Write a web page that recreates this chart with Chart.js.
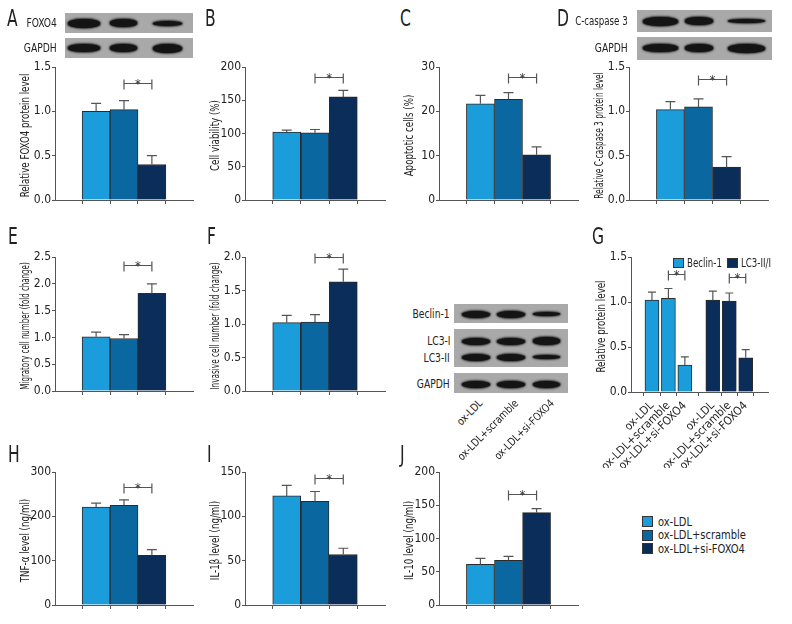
<!DOCTYPE html>
<html>
<head>
<meta charset="utf-8">
<script src="https://cdn.jsdelivr.net/npm/chart.js@4.4.0/dist/chart.umd.min.js"></script>
<style>
  body { margin: 0; background: #fff; }
  #fig { position: relative; width: 792px; height: 624px; overflow: hidden; background: #fff;
         font-family: 'DejaVu Sans Condensed', 'Liberation Sans Narrow', sans-serif; color: #222; }
  .blot { position: absolute; background: #a9a9a9; }
  .band { position: absolute; background: #141414; border-radius: 45%; box-shadow: 0 0 2px 1px #333; }
</style>
</head>
<body>
<div id="fig"></div>
<script>
// groups and colours
var groups = ["ox-LDL", "ox-LDL+scramble", "ox-LDL+si-FOXO4"];
var groupColors = ["#1b9ddb", "#0b67a0", "#0a2d5a"];

// panel values (mean) and SD
var foxo4Mean = [1.00, 1.02, 0.40];   var foxo4Sd = [0.09, 0.10, 0.10];
var viabMean  = [102, 101, 155];      var viabSd  = [3, 5, 10];
var apopMean  = [21.7, 22.7, 10.2];   var apopSd  = [1.9, 1.5, 1.8];
var ccasMean  = [1.02, 1.05, 0.37];   var ccasSd  = [0.09, 0.09, 0.12];
var migrMean  = [1.01, 0.98, 1.82];   var migrSd  = [0.09, 0.07, 0.18];
var invMean   = [1.02, 1.03, 1.63];   var invSd   = [0.11, 0.11, 0.19];
var beclinMean = [1.02, 1.04, 0.30];  var beclinSd = [0.09, 0.11, 0.09];
var lc3Mean    = [1.02, 1.01, 0.38];  var lc3Sd    = [0.10, 0.09, 0.09];
var tnfMean   = [221, 225, 112];      var tnfSd   = [9, 12, 13];
var il1bMean  = [123, 117, 57];       var il1bSd  = [12, 11, 7];
var il10Mean  = [61, 67, 139];        var il10Sd  = [9, 6, 6];
var gSeries = ["Beclin-1", "LC3-II/I"];

var W = 792;
var FONT = "'DejaVu Sans Condensed', 'Liberation Sans Narrow', sans-serif";
var fig = document.getElementById('fig');
Chart.defaults.font.family = FONT;
Chart.defaults.color = '#222';

// html text, squeezed a little to look like the condensed original
function txt(t, x, y, size, align, sx) {
  var d = document.createElement('div');
  d.textContent = t;
  d.style.cssText = 'position:absolute;white-space:nowrap;top:' + (y - size * 0.6) + 'px;font-size:' + size + 'px;line-height:' + (size * 1.2) + 'px;' +
    (align === 'right' ? 'right:' + (W - x) + 'px' : 'left:' + x + 'px') + ';transform-origin:' + (align === 'right' ? '100% 50%' : '0 50%') +
    ';transform:scaleX(' + (sx || 0.85) + ')';
  fig.appendChild(d);
  return d;
}

function rot(t, x, y, size) {
  var d = txt(t, x, y, size, 'right');
  d.style.transform = 'rotate(-45deg) scaleX(0.92)';
}

function box(x, y, w, h, color) {
  var d = document.createElement('div');
  d.style.cssText = 'position:absolute;left:' + x + 'px;top:' + y + 'px;width:' + w + 'px;height:' + h + 'px;background:' + color + ';border:1px solid #333;box-sizing:border-box';
  fig.appendChild(d);
}

// western blot strip: rows of bands [x0, x1, thickness]
function blot(x0, y0, x1, y1, rows) {
  var b = document.createElement('div');
  b.className = 'blot';
  b.style.cssText = 'left:' + x0 + 'px;top:' + y0 + 'px;width:' + (x1 - x0) + 'px;height:' + (y1 - y0) + 'px';
  fig.appendChild(b);
  rows.forEach(function (r) {
    r.lanes.forEach(function (l) {
      var d = document.createElement('div');
      d.className = 'band';
      d.style.cssText = 'left:' + (l[0] - x0) + 'px;top:' + (r.cy - y0 - l[2] / 2) + 'px;width:' + (l[1] - l[0]) + 'px;height:' + l[2] + 'px';
      b.appendChild(d);
    });
  });
}

function marks(o) {
  return {
    id: 'marks',
    afterDatasetsDraw: function (chart) {
      var ctx = chart.ctx, x = chart.scales.x, y = chart.scales.y;
      ctx.save();
      ctx.strokeStyle = '#555';
      ctx.lineWidth = 1.2;
      o.sets.forEach(function (s) {
        s.values.forEach(function (v, i) {
          var px = x.getPixelForValue(s.xs[i]);
          var y0 = y.getPixelForValue(v), y1 = y.getPixelForValue(v + s.sd[i]);
          ctx.beginPath();
          ctx.moveTo(px, y0); ctx.lineTo(px, y1);
          ctx.moveTo(px - o.cap, y1); ctx.lineTo(px + o.cap, y1);
          ctx.stroke();
        });
      });
      ctx.fillStyle = '#333';
      ctx.font = '13px ' + FONT;
      ctx.textAlign = 'center';
      (o.brackets || []).forEach(function (b) {
        var xa = x.getPixelForValue(b.from), xb = x.getPixelForValue(b.to), by = Math.round(y.getPixelForValue(b.y)) + 0.5;
        ctx.beginPath();
        ctx.moveTo(xa, by); ctx.lineTo(xb, by);
        ctx.moveTo(xa, by - 4); ctx.lineTo(xa, by + 6);
        ctx.moveTo(xb, by - 4); ctx.lineTo(xb, by + 6);
        ctx.stroke();
        ctx.fillText('*', (xa + xb) / 2, by + 4);
      });
      // y title, condensed to fit the axis like the original
      ctx.font = '11.5px ' + FONT;
      ctx.fillStyle = '#222';
      ctx.textBaseline = 'middle';
      var len = y.bottom - y.top, tw = ctx.measureText(o.ytitle).width;
      var k = Math.min(0.84, (len * 0.95) / tw);
      ctx.translate(y.right - 29, (y.top + y.bottom) / 2 + 2);
      ctx.rotate(-Math.PI / 2);
      ctx.scale(k, 1);
      ctx.fillText(o.ytitle, 0, 0);
      ctx.restore();
    }
  };
}

function panel(o) {
  var YW = 42, PT = 10, PR = 3, XH = o.xh || 10;
  var left = o.ax - YW, top = o.top - PT;
  var w = o.xe - left + PR, h = o.bottom - top + XH;
  var c = document.createElement('canvas');
  c.width = w; c.height = h;
  c.style.cssText = 'position:absolute;left:' + left + 'px;top:' + top + 'px';
  fig.appendChild(c);
  new Chart(c, {
    type: 'bar',
    data: {
      datasets: o.sets.map(function (s) {
        return {
          data: s.values.map(function (v, i) { return { x: s.xs[i], y: v }; }),
          backgroundColor: s.colors, borderColor: '#2b2b2b', borderWidth: 1,
          barThickness: o.bw, grouped: false
        };
      })
    },
    options: {
      responsive: false, animation: false,
      layout: { padding: { top: PT, right: PR, left: 0, bottom: 0 } },
      plugins: { legend: { display: false }, tooltip: { enabled: false } },
      scales: {
        x: {
          type: 'linear', min: o.xmin, max: o.xmax,
          afterFit: function (s) { s.height = XH; },
          afterBuildTicks: function (s) { s.ticks = o.ticks.map(function (v) { return { value: v }; }); },
          grid: { drawOnChartArea: false, tickLength: 4, color: '#555' },
          border: { color: '#555' },
          ticks: {
            display: !!o.labels, autoSkip: false, maxRotation: 45, minRotation: 45, padding: 3,
            font: { size: 11.5 },
            callback: function (v, i) { return o.labels ? o.labels[i] : ''; }
          }
        },
        y: {
          min: 0, max: o.ymax,
          afterFit: function (s) { s.width = YW; },
          grid: { drawOnChartArea: false, tickLength: 3, color: '#555' },
          border: { color: '#555' },
          ticks: {
            stepSize: o.step, padding: 1, font: { size: 12 },
            callback: function (v) { return o.dec ? v.toFixed(1) : v; }
          }
        }
      }
    },
    plugins: [marks(o)]
  });
}

function three(ax, xe, top, bottom, mean, sd, ymax, step, dec, ytitle, by) {
  panel({
    ax: ax, xe: xe, top: top, bottom: bottom, ymax: ymax, step: step, dec: dec, ytitle: ytitle,
    xmin: 0.35, xmax: 3.65, ticks: [1, 2, 3], bw: 28, cap: 5,
    sets: [{ xs: [1, 2, 3], values: mean, sd: sd, colors: groupColors }],
    brackets: [{ from: 2, to: 3, y: by }]
  });
}

// row 1
three(55, 193, 67, 200, foxo4Mean, foxo4Sd, 1.5, 0.5, true, 'Relative FOXO4 protein level', 1.32);
three(245, 385, 67, 200, viabMean, viabSd, 200, 50, false, 'Cell viability (%)', 185);
three(439, 578, 67, 200, apopMean, apopSd, 30, 10, false, 'Apoptotic cells (%)', 27.7);
three(629, 768, 67, 200, ccasMean, ccasSd, 1.5, 0.5, true, 'Relative C-caspase 3 protein level', 1.36);
// row 2
three(55, 193, 257, 391, migrMean, migrSd, 2.5, 0.5, true, 'Migratory cell number (fold change)', 2.35);
three(245, 385, 257, 391, invMean, invSd, 2.0, 0.5, true, 'Invasive cell number (fold change)', 2.0);
// row 3
three(55, 193, 472, 605, tnfMean, tnfSd, 300, 100, false, 'TNF-\u03b1 level (ng/ml)', 266);
three(245, 385, 472, 605, il1bMean, il1bSd, 150, 50, false, 'IL-1\u03b2 level (ng/ml)', 143);
three(439, 578, 472, 605, il10Mean, il10Sd, 200, 50, false, 'IL-10 level (ng/ml)', 167);

// panel G: two groups of three bars
var gx1 = [1, 2, 3], gx2 = [4.7, 5.7, 6.7];
panel({
  ax: 631, xe: 768, top: 257, bottom: 392, ymax: 1.5, step: 0.5, dec: true, ytitle: 'Relative protein level',
  xmin: 0.42, xmax: 7.36, ticks: gx1.concat(gx2), bw: 14, cap: 4, xh: 76,
  labels: groups.concat(groups),
  sets: [
    { xs: gx1, values: beclinMean, sd: beclinSd, colors: groupColors[0] },
    { xs: gx2, values: lc3Mean, sd: lc3Sd, colors: groupColors[2] }
  ],
  brackets: [{ from: 2, to: 3, y: 1.31 }, { from: 5.7, to: 6.7, y: 1.28 }]
});
box(673, 258, 11, 10, groupColors[0]); txt(gSeries[0], 687, 263, 12, 'left', 0.8);
box(727, 258, 11, 10, groupColors[2]); txt(gSeries[1], 741, 263, 12, 'left', 0.8);

// blots
blot(65, 13, 193, 33, [{ cy: 23, lanes: [[68, 100, 9], [110, 137, 8], [153, 182, 5]] }]);
blot(65, 38, 193, 58, [{ cy: 48, lanes: [[68, 100, 8], [110, 137, 8], [153, 182, 9]] }]);
txt('FOXO4', 57, 23, 12, 'right'); txt('GAPDH', 57, 48, 12, 'right');

blot(637, 10, 772, 32, [{ cy: 21, lanes: [[643, 678, 9], [685, 713, 8], [728, 765, 4]] }]);
blot(637, 37, 772, 60, [{ cy: 48, lanes: [[643, 678, 8], [685, 713, 8], [728, 765, 9]] }]);
txt('C-caspase 3', 628, 21, 12, 'right', 0.8); txt('GAPDH', 628, 48, 12, 'right');

blot(454, 304, 568, 323, [{ cy: 314, lanes: [[462, 490, 7], [497, 525, 7], [533, 560, 4]] }]);
blot(454, 329, 568, 367, [
  { cy: 341, lanes: [[462, 490, 7], [497, 525, 7], [533, 560, 8]] },
  { cy: 357, lanes: [[462, 490, 7], [497, 525, 7], [533, 560, 4]] }
]);
blot(454, 373, 568, 393, [{ cy: 384, lanes: [[462, 490, 7], [497, 525, 7], [533, 560, 7]] }]);
txt('Beclin-1', 450, 314, 12, 'right');
txt('LC3-I', 450, 341, 12, 'right');
txt('LC3-II', 450, 358, 12, 'right');
txt('GAPDH', 450, 384, 12, 'right');
rot(groups[0], 481, 402, 11);
rot(groups[1], 517, 402, 11);
rot(groups[2], 552, 402, 11);

// panel letters
[['A', 7, 19], ['B', 205, 19], ['C', 400, 19], ['D', 557, 19],
 ['E', 8, 237], ['F', 207, 237], ['G', 592, 237],
 ['H', 8, 455], ['I', 207, 455], ['J', 400, 455]].forEach(function (p) { txt(p[0], p[1], p[2], 23, 'left', 0.75); });

// legend
groups.forEach(function (g, i) {
  box(642, 516 + i * 13.5, 11, 11, groupColors[i]);
  txt(g, 658, 521.5 + i * 13.5, 13);
});
</script>
</body>
</html>
